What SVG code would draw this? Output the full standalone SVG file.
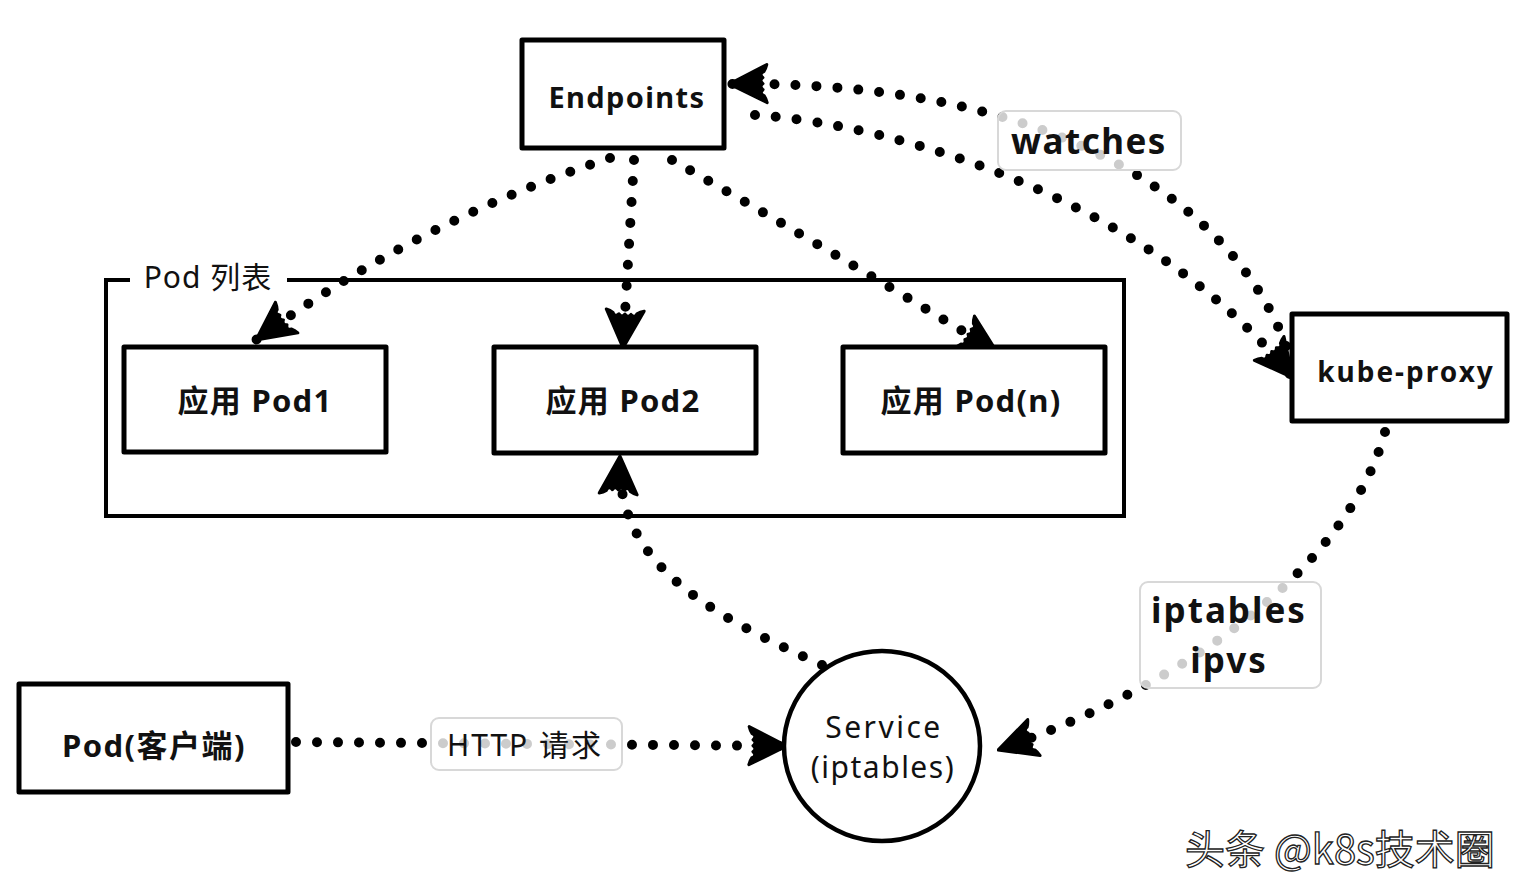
<svg xmlns="http://www.w3.org/2000/svg" width="1522" height="896" viewBox="0 0 1522 896">
<style>
.box{fill:#fff;stroke:#000;stroke-width:5;stroke-linejoin:round}
.frame{fill:none;stroke:#000;stroke-width:4}
.dot{fill:none;stroke:#000;stroke-width:10;stroke-linecap:round;stroke-dasharray:0 21;marker-end:url(#ah)}
.lbl{fill:#fff;fill-opacity:0.8;stroke:#d8d8d8;stroke-width:2}
.t{font-family:"Noto Sans","Noto Sans CJK SC",sans-serif;fill:#111;text-anchor:middle;dominant-baseline:central}
.b{font-weight:bold}
.wm{font-family:"Noto Sans CJK SC","Noto Sans",sans-serif;font-size:40px;fill:#fff;stroke:#222;stroke-width:1.3}
</style>
<defs>
<marker id="ah" markerUnits="userSpaceOnUse" viewBox="0 0 44 44" markerWidth="44" markerHeight="44" refX="43" refY="22" orient="auto">
<path d="M43,22 L5,3 Q6,7 8,10 Q13,12 9,16 Q13,19 9,22 Q13,25 9,28 Q13,32 8,34 Q6,37 5,41 Z" fill="#000" stroke="#000" stroke-width="3" stroke-linejoin="round"/>
</marker>
</defs>
<rect width="1522" height="896" fill="#fff"/>

<g id="connectors">
<path class="dot" d="M610,158 Q420,220 256,340"/>
<path class="dot" d="M634,160 L623,348"/>
<path class="dot" d="M672,160 Q830,250 997,352"/>
<path class="dot" d="M1286,346 C1240,220 1080,80 729,84"/>
<path class="dot" d="M755,115 C900,125 1150,200 1293,378"/>
<path class="dot" d="M1385,432 C1350,560 1200,680 998,750"/>
<path class="dot" d="M822,665 C700,610 615,560 620,456"/>
<path class="dot" d="M296,742 L787,746"/>
</g>

<g id="pod-list">
<path class="frame" d="M130,280 L106,280 L106,516 L1124,516 L1124,280 L287,280"/>
<text class="t" x="208" y="276" font-size="30" letter-spacing="1">Pod 列表</text>
</g>

<g id="endpoints">
<rect class="box" x="522" y="40" width="202" height="108"/>
<text class="t b" x="627" y="96" font-size="29" letter-spacing="1.4">Endpoints</text>
</g>

<g id="pod1">
<rect class="box" x="124" y="347" width="262" height="105"/>
<text class="t b" x="255" y="400" font-size="31" letter-spacing="1.3">应用 Pod1</text>
</g>

<g id="pod2">
<rect class="box" x="494" y="347" width="262" height="106"/>
<text class="t b" x="623" y="400" font-size="31" letter-spacing="1.3">应用 Pod2</text>
</g>

<g id="podn">
<rect class="box" x="843" y="347" width="262" height="106"/>
<text class="t b" x="971" y="400" font-size="31" letter-spacing="1.3">应用 Pod(n)</text>
</g>

<g id="kube-proxy">
<rect class="box" x="1292" y="314" width="215" height="107"/>
<text class="t b" x="1406" y="371" font-size="28" letter-spacing="2">kube-proxy</text>
</g>

<g id="pod-client">
<rect class="box" x="19" y="684" width="269" height="108"/>
<text class="t b" x="154" y="745" font-size="31" letter-spacing="1.5">Pod(客户端)</text>
</g>

<g id="service">
<ellipse cx="882" cy="746" rx="98" ry="95" fill="#fff" stroke="#000" stroke-width="4.5"/>
<text class="t" x="884" y="726" font-size="30" letter-spacing="2.5">Service</text>
<text class="t" x="883" y="766" font-size="30" letter-spacing="1.5">(iptables)</text>
</g>

<g id="label-watches">
<rect class="lbl" x="998" y="111" width="183" height="59" rx="8"/>
<text class="t b" x="1089" y="140" font-size="35" letter-spacing="1.5">watches</text>
</g>

<g id="label-iptables">
<rect class="lbl" x="1140" y="582" width="181" height="106" rx="8"/>
<text class="t b" x="1229" y="609" font-size="35" letter-spacing="2">iptables</text>
<text class="t b" x="1229" y="659" font-size="35" letter-spacing="2">ipvs</text>
</g>

<g id="label-http">
<rect class="lbl" x="431" y="718" width="191" height="52" rx="8"/>
<text class="t" x="525" y="744" font-size="30" letter-spacing="2">HTTP 请求</text>
</g>

<text class="wm" x="1185" y="864">头条 @k8s技术圈</text>
</svg>
